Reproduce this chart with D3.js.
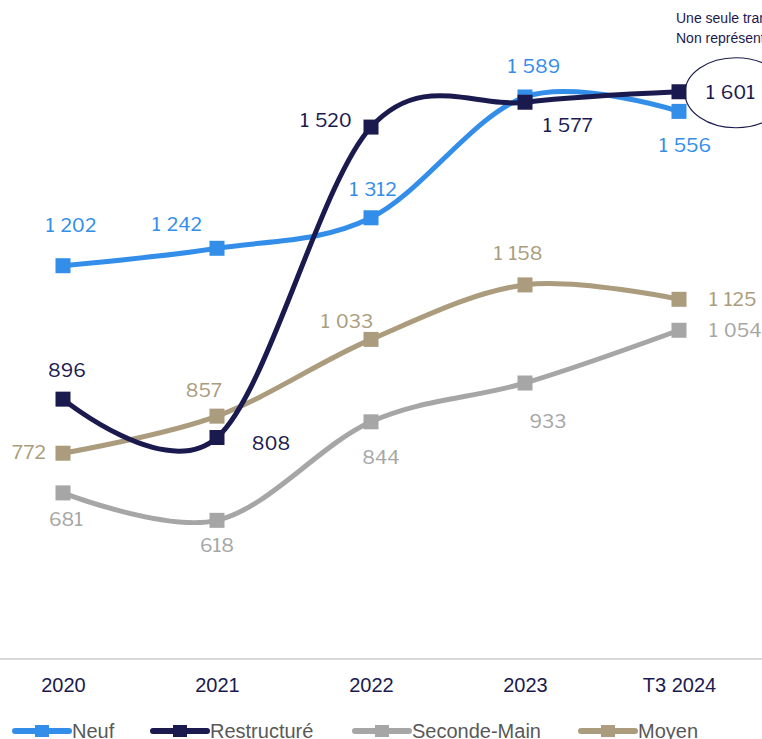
<!DOCTYPE html>
<html>
<head>
<meta charset="utf-8">
<script src="https://cdn.jsdelivr.net/npm/d3@7"></script>
<style>
  html, body { margin: 0; padding: 0; background: #fff; overflow: hidden; }
  svg { display: block; }
</style>
</head>
<body>
<script>
// Periods on the x axis
const categories = ["2020", "2021", "2022", "2023", "T3 2024"];

// Series values
const neuf = [1202, 1242, 1312, 1589, 1556];
const restructure = [896, 808, 1520, 1577, 1601];
const secondeMain = [681, 618, 844, 933, 1054];
const moyen = [772, 857, 1033, 1158, 1125];

const seriesNames = ["Neuf", "Restructuré", "Seconde-Main", "Moyen"];
const seriesValues = [neuf, restructure, secondeMain, moyen];
const seriesColors = ["#338ee9", "#1b1a4f", "#a6a6a6", "#aa9c7c"];

// Where each point's value label sits relative to its marker: [dx, dy, anchor]
const labelPlacement = [
  [[8, -40, "middle"], [-40, -24, "middle"], [2, -28, "middle"], [9, -31, "middle"], [6, 34, "middle"]],
  [[4, -29, "middle"], [54, 6, "middle"], [-45, -7, "middle"], [43, 23, "middle"], [null, null, null]],
  [[3, 26, "middle"], [0, 25, "middle"], [10, 36, "middle"], [23, 38, "middle"], [30, 0, "start"]],
  [[-17, -1, "end"], [-13, -26, "middle"], [-24, -18, "middle"], [-7, -32, "middle"], [30, 0, "start"]]
];

const W = 762, H = 739;
const fmt = v => d3.format(",")(v).replace(/,/g, "\u2009");

const svg = d3.select("body").append("svg").attr("width", W).attr("height", H);

const x = d3.scalePoint().domain(categories).range([63, 679]);
const y = d3.scaleLinear().domain([300, 1800]).range([659, 5]);

// Baseline
svg.append("line")
  .attr("x1", 0).attr("x2", W)
  .attr("y1", y(300)).attr("y2", y(300))
  .attr("stroke", "#d9d9d9").attr("stroke-width", 2);

// Category labels
const xAxis = d3.axisBottom(x).tickSize(0).tickPadding(0);
const gx = svg.append("g").attr("transform", `translate(0,${y(300) + 33})`).call(xAxis);
gx.select(".domain").remove();
gx.selectAll("text")
  .attr("dy", 0)
  .attr("font-family", "'Liberation Sans', Arial, sans-serif")
  .attr("font-size", 20)
  .attr("fill", "#1b1a4f");

const line = d3.line()
  .x((d, i) => x(categories[i]))
  .y(d => y(d))
  .curve(d3.curveCardinal.tension(0));

// Draw series in an order that keeps the navy line over the blue one
const order = [2, 3, 0, 1];
order.forEach(s => {
  const g = svg.append("g");
  g.append("path")
    .datum(seriesValues[s])
    .attr("d", line)
    .attr("fill", "none")
    .attr("stroke", seriesColors[s])
    .attr("stroke-width", 5)
    .attr("stroke-linecap", "round");
  g.selectAll("rect")
    .data(seriesValues[s])
    .join("rect")
    .attr("x", (d, i) => x(categories[i]) - 7.5)
    .attr("y", d => y(d) - 7.5)
    .attr("width", 15).attr("height", 15)
    .attr("fill", seriesColors[s]);
});

// Value labels
seriesValues.forEach((vals, s) => {
  vals.forEach((v, i) => {
    const p = labelPlacement[s][i];
    if (p[0] === null) return;
    svg.append("text")
      .attr("x", x(categories[i]) + p[0])
      .attr("y", y(v) + p[1])
      .attr("dy", "0.35em")
      .attr("text-anchor", p[2])
      .attr("font-family", "'Libre Franklin', Roboto, 'Liberation Sans', sans-serif")
      .attr("font-size", 19)
      .attr("fill", seriesColors[s])
      .text(fmt(v));
  });
});

// Highlighted last value of Restructuré, circled
const lastIdx = categories.length - 1;
const cx = x(categories[lastIdx]) + 57, cy = y(restructure[lastIdx]) + 1;
svg.append("ellipse")
  .attr("cx", cx).attr("cy", cy)
  .attr("rx", 51).attr("ry", 35)
  .attr("fill", "none").attr("stroke", "#1b1a4f").attr("stroke-width", 1.2);
svg.append("text")
  .attr("x", x(categories[lastIdx]) + 27)
  .attr("y", y(restructure[lastIdx]) + 1)
  .attr("dy", "0.35em")
  .attr("font-family", "'Libre Franklin', Roboto, 'Liberation Sans', sans-serif")
  .attr("font-size", 19)
  .attr("fill", "#1b1a4f")
  .text(fmt(restructure[lastIdx]));

// Note above the circled value
const note = ["Une seule transaction", "Non représentatif"];
note.forEach((t, k) => {
  svg.append("text")
    .attr("x", 676).attr("y", 23 + k * 20)
    .attr("font-family", "'Liberation Sans', Arial, sans-serif")
    .attr("font-size", 14)
    .attr("fill", "#1b1a4f")
    .text(t);
});

// Legend
const legendX = [12, 150, 352, 578];
const legendY = 731;
seriesNames.forEach((name, s) => {
  const g = svg.append("g").attr("transform", `translate(${legendX[s]},${legendY})`);
  g.append("line")
    .attr("x1", 3).attr("x2", 57)
    .attr("stroke", seriesColors[s]).attr("stroke-width", 6)
    .attr("stroke-linecap", "round");
  g.append("rect")
    .attr("x", 23).attr("y", -6).attr("width", 14).attr("height", 12)
    .attr("fill", seriesColors[s]);
  g.append("text")
    .attr("x", 60).attr("dy", "0.35em")
    .attr("font-family", "'Liberation Sans', Arial, sans-serif")
    .attr("font-size", 20)
    .attr("fill", "#595959")
    .text(name);
});
</script>
</body>
</html>
